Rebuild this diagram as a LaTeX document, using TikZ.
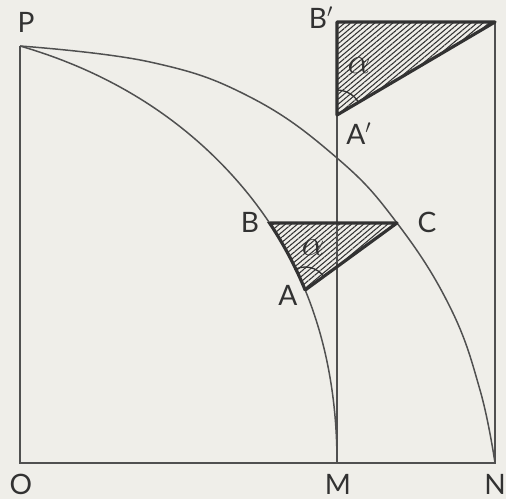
\documentclass[tikz,border=0pt]{standalone}
\usepackage{fontspec}
\setmainfont{Lato}
\usetikzlibrary{intersections,patterns.meta}

\definecolor{paper}{RGB}{239,238,233}
\definecolor{ink}{RGB}{80,80,80}
\definecolor{darkink}{RGB}{50,50,50}

\newcommand{\innerarc}{(P) .. controls (110,72) and (187,120) .. (245,190) .. controls (312,271) and (337,365) .. (M)}
\newcommand{\outerarc}{plot[smooth,tension=0.7] coordinates {(P) (150,62) (250,97) (337,158) (397,223) (450,307) (480,390) (N)}}

\begin{document}
\begin{tikzpicture}[x=0.2mm, y=-0.2mm,
  font=\fontsize{16}{18}\selectfont,
  fineline/.style={draw=ink, line width=0.85pt},
  heavyline/.style={draw=darkink, line width=1.8pt, line join=round},
  hatch/.style={pattern={Lines[angle=40, distance=2.2pt, line width=0.6pt]}, pattern color=darkink},
  angmark/.style={draw=darkink, line width=0.75pt},
  greek/.style={font=\huge, text=darkink, inner sep=0pt},
  lab/.style={text=darkink, inner sep=0pt},
]
\fill[paper] (0,0) rectangle (506,499);
\useasboundingbox (0,0) rectangle (506,499);

\coordinate (O) at (20,463);
\coordinate (P) at (20,46);
\coordinate (M) at (337,463);
\coordinate (N) at (495,463);
\coordinate (Bp) at (337,22);
\coordinate (T) at (495,22);
\coordinate (Ap) at (337,115);

\path[name path=inner] \innerarc;
\path[name path=outer] \outerarc;
\path[name path=levelB] (0,223) -- (506,223);
\path[name path=levelA] (0,290) -- (506,290);
\path[name intersections={of=inner and levelB, by=B}];
\path[name intersections={of=inner and levelA, by=A}];
\path[name intersections={of=outer and levelB, by=C}];

% shaded triangles
\begin{scope}
  \clip \innerarc -- (506,463) -- (506,0) -- cycle;
  \fill[hatch] (B) -- (C) -- (A) -- cycle;
\end{scope}
\fill[hatch] (Bp) -- (T) -- (Ap) -- cycle;

% frame and arcs
\draw[fineline] (P) -- (O) -- (N) -- (T);
\draw[fineline] (M) -- (Bp);
\draw[fineline] \innerarc;
\draw[fineline] \outerarc;

% triangle edges
\draw[heavyline] (B) -- (C) -- (A);
\begin{scope}
  \clip (0,223) rectangle (506,290);
  \draw[heavyline] \innerarc;
\end{scope}
\draw[heavyline] (Ap) -- (Bp) -- (T) -- cycle;

% angles
\begin{scope}
  \clip (B) -- (C) -- (A) -- cycle;
  \draw[angmark] (A) circle (23);
\end{scope}
\begin{scope}
  \clip (Bp) -- (T) -- (Ap) -- cycle;
  \draw[angmark] (Ap) circle (25);
\end{scope}
\node[greek] (alphaup) at (359,66) {$\alpha$};
\node[greek] (alphalow) at (313,248) {$\alpha$};

% labels
\node[lab] (labP) at (26,22) {P};
\node[lab] (labO) at (21,484) {O};
\node[lab] (labM) at (338,484) {M};
\node[lab] (labN) at (495,484) {N};
\node[lab] (labB) at (250,222) {B};
\node[lab] (labC) at (427,222) {C};
\node[lab] (labA) at (288,295) {A};
\node[lab] (labBp) at (321,18) {B$'$};
\node[lab] (labAp) at (359,134) {A$'$};
\end{tikzpicture}
\end{document}
